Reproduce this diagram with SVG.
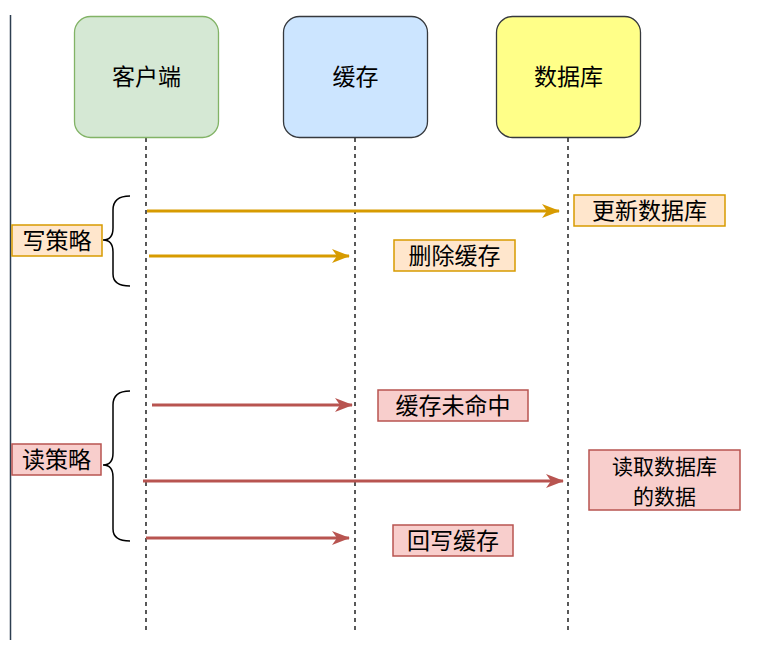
<svg xmlns="http://www.w3.org/2000/svg" width="771" height="656" viewBox="0 0 771 656">
<style>
.t{font-family:"Noto Sans CJK SC","Noto Sans",sans-serif;font-size:23px;fill:#000;text-anchor:middle;dominant-baseline:central}
.node{stroke-width:1.3}
.life{stroke:#000;stroke-width:1.3;stroke-dasharray:4,4;fill:none}
.w{stroke:#d79b00;stroke-width:3;fill:none}
.r{stroke:#b85450;stroke-width:3;fill:none}
.wl{fill:#ffe6cc;stroke:#d79b00;stroke-width:1.5}
.rl{fill:#f8cecc;stroke:#b85450;stroke-width:1.5}
.brace{fill:none;stroke:#000;stroke-width:1.5}
</style>
<defs>
<marker id="aw" markerWidth="18" markerHeight="14" refX="17" refY="7" orient="auto" markerUnits="userSpaceOnUse">
<path d="M0,0 L18,7 L0,14 L5,7 Z" fill="#d79b00"/>
</marker>
<marker id="ar" markerWidth="18" markerHeight="14" refX="17" refY="7" orient="auto" markerUnits="userSpaceOnUse">
<path d="M0,0 L18,7 L0,14 L5,7 Z" fill="#b85450"/>
</marker>
</defs>
<rect width="771" height="656" fill="#fff"/>
<line x1="10.5" y1="15" x2="10.5" y2="640" stroke="#2d3e50" stroke-width="1.5"/>
<g id="lifelines">
<line class="life" x1="146" y1="138" x2="146" y2="632"/>
<line class="life" x1="355" y1="138" x2="355" y2="632"/>
<line class="life" x1="568" y1="138" x2="568" y2="632"/>
</g>
<g id="client"><rect class="node" x="74.5" y="16.5" width="144" height="121" rx="16" fill="#d5e8d4" stroke="#82b366"/><text class="t" x="146.5" y="75">客户端</text></g>
<g id="cache"><rect class="node" x="283.5" y="16.5" width="144" height="121" rx="16" fill="#cce5ff" stroke="#36393d"/><text class="t" x="355.5" y="75">缓存</text></g>
<g id="db"><rect class="node" x="496.5" y="16.5" width="144" height="121" rx="16" fill="#ffff88" stroke="#36393d"/><text class="t" x="568.5" y="75">数据库</text></g>
<g id="connectors">
<line class="w" x1="147" y1="211" x2="559" y2="211" marker-end="url(#aw)"/>
<line class="w" x1="149" y1="256" x2="349" y2="256" marker-end="url(#aw)"/>
<line class="r" x1="152" y1="405" x2="352" y2="405" marker-end="url(#ar)"/>
<line class="r" x1="143" y1="481" x2="563" y2="481" marker-end="url(#ar)"/>
<line class="r" x1="146" y1="538" x2="349" y2="538" marker-end="url(#ar)"/>
</g>
<g id="write-brace"><path class="brace" d="M130,196 C119,196 113,200 113,210 L113,228 C113,236 110,240 103,240 C110,240 113,244 113,252 L113,274 C113,282 119,286 130,286"/></g>
<g id="read-brace"><path class="brace" d="M130,391 C119,391 113,395 113,405 L113,453 C113,461 110,465 103,465 C110,465 113,469 113,477 L113,529 C113,537 119,541 130,541"/></g>
<g id="write-label"><rect class="wl" x="12" y="225" width="90" height="31"/><text class="t" x="57" y="239">写策略</text></g>
<g id="update-db"><rect class="wl" x="574" y="195" width="151" height="31"/><text class="t" x="649.5" y="209">更新数据库</text></g>
<g id="delete-cache"><rect class="wl" x="394" y="240" width="121" height="31"/><text class="t" x="454.5" y="254">删除缓存</text></g>
<g id="read-label"><rect class="rl" x="12" y="444" width="89" height="31"/><text class="t" x="56.5" y="458">读策略</text></g>
<g id="cache-miss"><rect class="rl" x="378" y="390" width="150" height="31"/><text class="t" x="453" y="404">缓存未命中</text></g>
<g id="read-db"><rect class="rl" x="589" y="450" width="151" height="60"/><text class="t" style="font-size:21px" x="664.5" y="464.5"><tspan x="664.5" y="464.5">读取数据库</tspan><tspan x="664.5" y="495">的数据</tspan></text></g>
<g id="write-back"><rect class="rl" x="393" y="525" width="120" height="31"/><text class="t" x="453" y="539">回写缓存</text></g>
</svg>
